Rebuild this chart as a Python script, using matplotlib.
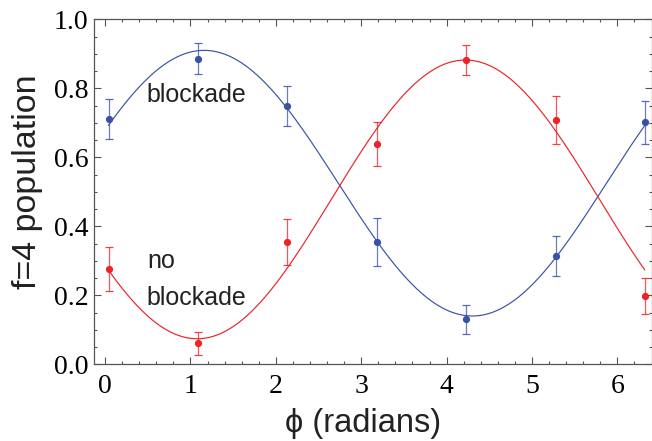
import numpy as np
import matplotlib
matplotlib.use("Agg")
import matplotlib.pyplot as plt
from matplotlib.ticker import MultipleLocator

# data
phi = [0.04, 1.087, 2.134, 3.18, 4.23, 5.28, 6.32]
blockade = [0.711, 0.886, 0.749, 0.355, 0.130, 0.314, 0.701]
blockade_err = [0.057, 0.045, 0.057, 0.070, 0.043, 0.058, 0.063]
no_blockade = [0.276, 0.061, 0.354, 0.639, 0.883, 0.708, 0.198]
no_blockade_err = [0.063, 0.034, 0.066, 0.064, 0.043, 0.069, 0.051]

# fitted cosine parameters (offset, amplitude, phase of maximum)
blue_fit = (0.525, 0.385, 1.16)
red_fit = (0.478, 0.404, 4.22)

blue = '#3953a4'
red = '#ee2229'

fig = plt.figure(figsize=(6.52, 4.41), dpi=100)
ax = fig.add_axes([94/652, 76.7/441, (651.5-94)/652, (364.3-19.3)/441])

xf = np.linspace(phi[0], phi[-1], 400)
for (c, a, p), col in ((blue_fit, blue), (red_fit, red)):
    ax.plot(xf, c + a*np.cos(xf - p), color=col, lw=0.85, zorder=2)

for y, e, col in ((blockade, blockade_err, blue), (no_blockade, no_blockade_err, red)):
    eb = ax.errorbar(phi, y, yerr=e, fmt='o', color=col, ms=4.2, elinewidth=0.9,
                     capsize=3, capthick=0.9, zorder=3)
    for l in eb[2]:
        l.set_alpha(0.75)
    for l in eb[1]:
        l.set_alpha(0.85)

ax.set_xlim(-0.13, 6.40)
ax.set_ylim(0, 1.0)
ax.xaxis.set_major_locator(MultipleLocator(1))
ax.xaxis.set_minor_locator(MultipleLocator(0.2))
ax.yaxis.set_major_locator(MultipleLocator(0.2))
ax.yaxis.set_minor_locator(MultipleLocator(0.05))
ax.yaxis.set_major_formatter(matplotlib.ticker.FormatStrFormatter('%.1f'))

for s in ax.spines.values():
    s.set_color('#555555')
    s.set_linewidth(0.9)
ax.tick_params(which='both', direction='in', top=True, right=True, color='#555555', width=0.8)
ax.tick_params(which='major', length=5)
ax.tick_params(which='minor', length=2.5)
ax.tick_params(axis='both', labelsize=20)
ax.tick_params(axis='x', pad=7)
ax.tick_params(axis='y', pad=4)
for lab in ax.get_xticklabels() + ax.get_yticklabels():
    lab.set_fontfamily('Liberation Serif')

ax.set_xlabel('ϕ (radians)', fontsize=23.5, family='Liberation Sans', color='#222222')
ax.set_ylabel('f=4 population', fontsize=24.5, family='Liberation Sans', color='#222222')
ax.xaxis.label.set_va('center')
ax.yaxis.label.set_va('center')
ax.xaxis.set_label_coords(0.483, -0.172)
ax.yaxis.set_label_coords(-0.12, 0.53)

ax.text(0.49, 0.761, 'blockade', fontsize=18, family='Liberation Sans', color='#222222', va='baseline')
ax.text(0.49, 0.279, 'no', fontsize=18, family='Liberation Sans', color='#222222', va='baseline')
ax.text(0.49, 0.172, 'blockade', fontsize=18, family='Liberation Sans', color='#222222', va='baseline')

fig.savefig('out.png', dpi=100)
